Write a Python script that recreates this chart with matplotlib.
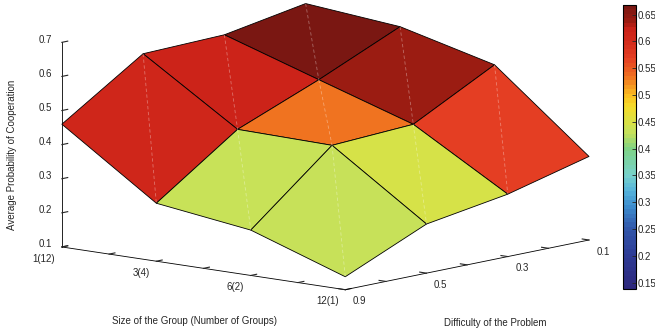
import numpy as np
import matplotlib
matplotlib.use('Agg')
import matplotlib.pyplot as plt
from matplotlib.colors import LinearSegmentedColormap, Normalize
from matplotlib.cm import ScalarMappable
from mpl_toolkits.mplot3d import proj3d

plt.rcParams['font.family'] = ['Liberation Sans', 'DejaVu Sans']
plt.rcParams['font.size'] = 7

group_labels = ['1(12)', '3(4)', '6(2)', '12(1)']
difficulty_labels = ['0.9', '0.5', '0.3', '0.1']

# average probability of cooperation per group size, same order as difficulty_labels
coop_1_12 = [0.460, 0.618, 0.625, 0.668]
coop_3_4 = [0.270, 0.438, 0.535, 0.642]
coop_6_2 = [0.233, 0.433, 0.446, 0.572]
coop_12_1 = [0.138, 0.244, 0.283, 0.345]

# colormap anchors (value, colour)
cmap_vals = [0.138, 0.20, 0.25, 0.29, 0.32, 0.35, 0.40, 0.43, 0.438, 0.446, 0.48,
             0.50, 0.535, 0.572, 0.60, 0.625, 0.642, 0.668]
cmap_cols = ['#2d287d', '#2e3c96', '#3258ab', '#3c8ccd', '#55b4dc', '#78d2cc',
             '#7fd383', '#c6e159', '#c8e258', '#d6e248', '#f5dc2a', '#fbc020', '#f07320',
             '#e43e23', '#d42d1c', '#cd2319', '#9b1c12', '#7a1712']

Z = np.array([coop_1_12, coop_3_4, coop_6_2, coop_12_1])
gi = np.arange(len(group_labels))
di = np.arange(len(difficulty_labels))
X, Y = np.meshgrid(gi, di, indexing='ij')

vmin, vmax = Z.min(), Z.max()
pos = np.clip((np.array(cmap_vals) - vmin) / (vmax - vmin), 0, 1)
pos[0], pos[-1] = 0, 1
cmap = LinearSegmentedColormap.from_list('coop', list(zip(pos, cmap_cols)), N=64)
cmap_fine = LinearSegmentedColormap.from_list('coop_fine', list(zip(pos, cmap_cols)), N=512)
norm = Normalize(vmin, vmax)

# flat shading like matlab: each face takes the colour of one corner
fc = cmap_fine(norm(Z[:, [1, 2, 3, 3]]))

W, H = 655, 334
fig = plt.figure(figsize=(W / 100, H / 100), dpi=100)
ax = fig.add_axes([0, 0, 1, 1], projection='3d', proj_type='ortho', computed_zorder=False)
ax.view_init(elev=10.1, azim=-49.3)
ax.set_box_aspect((1, 1, 0.556))

ax.plot_surface(X, Y, Z, facecolors=fc, shade=False, edgecolor='k',
                linewidth=0.6, rstride=1, cstride=1, zorder=1)

# faint diagonals where the renderer split each face in two triangles
for i in range(len(gi) - 1):
    for j in range(len(di) - 1):
        ax.plot([gi[i], gi[i + 1]], [di[j + 1], di[j]], [Z[i, j + 1], Z[i + 1, j]],
                color='white', alpha=0.35, lw=0.6, ls=(0, (4, 3)), zorder=2)

ax.set_xlim(0, 3)
ax.set_ylim(0, 3)
ax.set_zlim(0.1, 0.7)
ax.set_xticks(np.arange(0, 3.01, 0.5))
ax.set_xticklabels([group_labels[i // 2] if i % 2 == 0 else '' for i in range(7)], ha='right')
ax.set_yticks(np.arange(0, 3.01, 0.5))
ax.set_yticklabels([difficulty_labels[i // 2] if i % 2 == 0 else '' for i in range(7)], ha='left')
ax.set_zticks(np.arange(0.1, 0.71, 0.1))
ax.set_zticklabels(['%.1f' % v for v in np.arange(0.1, 0.71, 0.1)], va='baseline')
ax.zaxis.set_ticks_position('lower')
ax.grid(False)
for a in (ax.xaxis, ax.yaxis, ax.zaxis):
    a.set_pane_color((1, 1, 1, 0))
    a.pane.set_edgecolor((1, 1, 1, 0))
    a.line.set_color('k')
    a.line.set_linewidth(0.6)
    a._axinfo['tick']['inward_factor'] = 0.0
    a._axinfo['tick']['outward_factor'] = 0.3
ax.tick_params(axis='both', colors='#262626', pad=-2.5)
ax.tick_params(axis='z', pad=-1.5)

# fit the axes so the box corners land where they are in the original
fig.canvas.draw()
pts = np.array([[0, 0, 0.1], [3, 0, 0.1], [3, 3, 0.1], [0, 0, 0.7]])
target = np.array([[62, H - 247], [345, H - 290], [589, H - 240], [62, H - 42]], float)


def to_px(p):
    xs, ys, _ = proj3d.proj_transform(p[:, 0], p[:, 1], p[:, 2], ax.get_proj())
    return ax.transData.transform(np.column_stack([xs, ys]))


old = to_px(pts)
bb = ax.get_position().transformed(fig.transFigure)
c = np.array([(bb.x0 + bb.x1) / 2, (bb.y0 + bb.y1) / 2])
side = bb.width
a = old - c
A = np.zeros((8, 3))
A[0::2, 0] = a[:, 0]
A[1::2, 0] = a[:, 1]
A[0::2, 1] = 1
A[1::2, 2] = 1
s, tx, ty = np.linalg.lstsq(A, (target - c).ravel(), rcond=None)[0]
nc = c + [tx, ty]
ns = side * s
ax.set_position([(nc[0] - ns / 2) / W, (nc[1] - ns / 2) / H, ns / W, ns / H])

cax = fig.add_axes([623 / W, (H - 289) / H, 13 / W, 284 / H])
cb = fig.colorbar(ScalarMappable(norm=norm, cmap=cmap), cax=cax)
cticks = np.arange(0.15, 0.66, 0.05)
cb.set_ticks(cticks)
cb.set_ticklabels(['%g' % round(t, 2) for t in cticks])
cb.ax.tick_params(direction='in', length=3, width=0.6, labelsize=7, colors='#262626', pad=1)
cb.outline.set_linewidth(0.8)

fig.text(195 / W, 1 - 321 / H, 'Size of the Group (Number of Groups)', ha='center', va='center', color='#262626')
fig.text(495 / W, 1 - 323 / H, 'Difficulty of the Problem', ha='center', va='center', color='#262626')
fig.text(12 / W, 1 - 155 / H, 'Average Probability of Cooperation', rotation=90,
         ha='center', va='center', color='#262626')

fig.savefig('out.png', dpi=100)
